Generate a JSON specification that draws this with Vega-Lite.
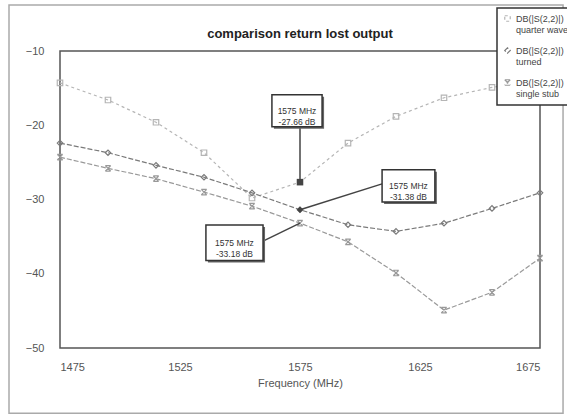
{
  "$schema": "https://vega.github.io/schema/vega-lite/v6.json",
  "width": 480,
  "height": 297,
  "autosize": {"type": "none"},
  "padding": {"left": 60, "top": 51, "right": 27, "bottom": 71},
  "background": "white",
  "config": {
    "view": {"stroke": "#555", "strokeWidth": 1.5},
    "font": "Liberation Sans",
    "legend": {
      "orient": "none", "legendX": 437, "legendY": -43,
      "title": null,
      "fillColor": "white", "strokeColor": "#333", "strokeWidth": 1.5,
      "padding": 6, "rowPadding": 10,
      "labelFont": "Liberation Sans", "labelFontSize": 9, "labelColor": "#444",
      "symbolSize": 30, "symbolFillColor": "white", "symbolStrokeWidth": 1.2
    }
  },
  "title": {
    "text": "comparison return lost output",
    "font": "Liberation Sans",
    "fontSize": 13,
    "fontWeight": "bold",
    "color": "#222",
    "anchor": "middle",
    "offset": -37
  },
  "datasets": {
    "curves": [
      {"freq": 1475, "db": -14.3, "series": "quarter wave"},
      {"freq": 1495, "db": -16.6, "series": "quarter wave"},
      {"freq": 1515, "db": -19.6, "series": "quarter wave"},
      {"freq": 1535, "db": -23.7, "series": "quarter wave"},
      {"freq": 1555, "db": -29.8, "series": "quarter wave"},
      {"freq": 1575, "db": -27.66, "series": "quarter wave"},
      {"freq": 1595, "db": -22.4, "series": "quarter wave"},
      {"freq": 1615, "db": -18.8, "series": "quarter wave"},
      {"freq": 1635, "db": -16.3, "series": "quarter wave"},
      {"freq": 1655, "db": -14.9, "series": "quarter wave"},
      {"freq": 1675, "db": -13.8, "series": "quarter wave"},
      {"freq": 1475, "db": -22.4, "series": "turned"},
      {"freq": 1495, "db": -23.7, "series": "turned"},
      {"freq": 1515, "db": -25.4, "series": "turned"},
      {"freq": 1535, "db": -27.0, "series": "turned"},
      {"freq": 1555, "db": -29.1, "series": "turned"},
      {"freq": 1575, "db": -31.38, "series": "turned"},
      {"freq": 1595, "db": -33.4, "series": "turned"},
      {"freq": 1615, "db": -34.3, "series": "turned"},
      {"freq": 1635, "db": -33.2, "series": "turned"},
      {"freq": 1655, "db": -31.2, "series": "turned"},
      {"freq": 1675, "db": -29.1, "series": "turned"},
      {"freq": 1475, "db": -24.3, "series": "single stub"},
      {"freq": 1495, "db": -25.8, "series": "single stub"},
      {"freq": 1515, "db": -27.2, "series": "single stub"},
      {"freq": 1535, "db": -29.0, "series": "single stub"},
      {"freq": 1555, "db": -30.9, "series": "single stub"},
      {"freq": 1575, "db": -33.18, "series": "single stub"},
      {"freq": 1595, "db": -35.7, "series": "single stub"},
      {"freq": 1615, "db": -39.9, "series": "single stub"},
      {"freq": 1635, "db": -44.9, "series": "single stub"},
      {"freq": 1655, "db": -42.5, "series": "single stub"},
      {"freq": 1675, "db": -37.9, "series": "single stub"}
    ],
    "notes": [
      {"label": "1575 MHz\n-27.66 dB", "bx1": 1563.3, "bx2": 1584.2, "by1": -15.9, "by2": -20.2, "bxc": 1573.75, "byc": -18.05, "lx1": 1575, "ly1": -20.2, "lx2": 1575, "ly2": -27.66},
      {"label": "1575 MHz\n-31.38 dB", "bx1": 1609.2, "bx2": 1631.2, "by1": -26.0, "by2": -30.35, "bxc": 1620.2, "byc": -28.18, "lx1": 1609.2, "ly1": -27.9, "lx2": 1575, "ly2": -31.38},
      {"label": "1575 MHz\n-33.18 dB", "bx1": 1535.8, "bx2": 1559.6, "by1": -33.45, "by2": -38.2, "bxc": 1547.7, "byc": -35.82, "lx1": 1559.6, "ly1": -35.6, "lx2": 1575, "ly2": -33.18}
    ]
  },
  "layer": [
    {
      "data": {"values": [{"k": 1}]},
      "mark": {"type": "rect", "fill": null, "fillOpacity": 0, "stroke": "#aaa", "strokeWidth": 1.5, "clip": false},
      "encoding": {
        "x": {"datum": 1453.75, "type": "quantitative", "scale": {"domain": [1475, 1675], "nice": false, "zero": false}},
        "x2": {"datum": 1684.6},
        "y": {"datum": -3.8, "type": "quantitative", "scale": {"domain": [-50, -10], "nice": false, "zero": false}},
        "y2": {"datum": -58.8}
      }
    },
    {
      "data": {"name": "curves"},
      "mark": {"type": "line", "strokeWidth": 1.2},
      "encoding": {
        "x": {
          "field": "freq", "type": "quantitative",
          "scale": {"domain": [1475, 1675], "nice": false, "zero": false},
          "axis": {
            "values": [1475, 1525, 1575, 1625, 1675],
            "format": "d",
            "title": "Frequency (MHz)",
            "grid": false, "domain": false, "ticks": false,
            "labelFont": "Liberation Sans", "labelFontSize": 11, "labelColor": "#555",
            "labelPadding": 13,
            "titleFont": "Liberation Sans", "titleFontSize": 11, "titleFontWeight": "normal", "titleColor": "#555",
            "titlePadding": 5
          }
        },
        "y": {
          "field": "db", "type": "quantitative",
          "scale": {"domain": [-50, -10], "nice": false, "zero": false},
          "axis": {
            "values": [-10, -20, -30, -40, -50],
            "format": "d",
            "title": null,
            "grid": false, "domain": false, "ticks": false,
            "labelFont": "Liberation Sans", "labelFontSize": 11, "labelColor": "#555",
            "labelPadding": 16
          }
        },
        "color": {
          "field": "series", "type": "nominal",
          "scale": {"domain": ["quarter wave", "turned", "single stub"], "range": ["#b5b5b5", "#7a7a7a", "#999999"]}
        },
        "strokeDash": {
          "field": "series", "type": "nominal",
          "scale": {"domain": ["quarter wave", "turned", "single stub"], "range": [[3, 3], [5, 2], [5, 2]]},
          "legend": null
        }
      }
    },
    {
      "data": {"name": "curves"},
      "mark": {"type": "point", "filled": false, "size": 30, "strokeWidth": 1.2, "opacity": 1},
      "encoding": {
        "x": {"field": "freq", "type": "quantitative"},
        "y": {"field": "db", "type": "quantitative"},
        "color": {
          "field": "series", "type": "nominal",
          "scale": {"domain": ["quarter wave", "turned", "single stub"], "range": ["#b5b5b5", "#7a7a7a", "#999999"]},
          "legend": {"labelExpr": "['DB(|S(2,2)|)', datum.label]"}
        },
        "shape": {
          "field": "series", "type": "nominal",
          "scale": {"domain": ["quarter wave", "turned", "single stub"], "range": ["square", "diamond", "M-1,-1L1,1M1,-1L-1,1M-1,-1L1,-1M-1,1L1,1"]},
          "legend": {"labelExpr": "['DB(|S(2,2)|)', datum.label]"}
        }
      }
    },
    {
      "data": {"name": "curves"},
      "transform": [{"filter": "datum.freq == 1575"}],
      "mark": {"type": "point", "filled": true, "size": 40, "color": "#444", "opacity": 1},
      "encoding": {
        "x": {"field": "freq", "type": "quantitative"},
        "y": {"field": "db", "type": "quantitative"},
        "shape": {"field": "series", "type": "nominal"}
      }
    },
    {
      "data": {"name": "notes"},
      "mark": {"type": "rule", "color": "#444", "strokeWidth": 1.5},
      "encoding": {
        "x": {"field": "lx1", "type": "quantitative"},
        "y": {"field": "ly1", "type": "quantitative"},
        "x2": {"field": "lx2"},
        "y2": {"field": "ly2"}
      }
    },
    {
      "data": {"name": "notes"},
      "mark": {"type": "rect", "fill": "#666", "xOffset": 2, "yOffset": 2, "x2Offset": 2, "y2Offset": 2},
      "encoding": {
        "x": {"field": "bx1", "type": "quantitative"},
        "x2": {"field": "bx2"},
        "y": {"field": "by1", "type": "quantitative"},
        "y2": {"field": "by2"}
      }
    },
    {
      "data": {"name": "notes"},
      "mark": {"type": "rect", "fill": "white", "stroke": "#333", "strokeWidth": 1.5},
      "encoding": {
        "x": {"field": "bx1", "type": "quantitative"},
        "x2": {"field": "bx2"},
        "y": {"field": "by1", "type": "quantitative"},
        "y2": {"field": "by2"}
      }
    },
    {
      "data": {"name": "notes"},
      "mark": {"type": "text", "lineBreak": "\n", "font": "Liberation Sans", "fontSize": 8.5, "color": "#333", "align": "center", "baseline": "middle", "lineHeight": 11},
      "encoding": {
        "x": {"field": "bxc", "type": "quantitative"},
        "y": {"field": "byc", "type": "quantitative"},
        "text": {"field": "label"}
      }
    }
  ]
}
